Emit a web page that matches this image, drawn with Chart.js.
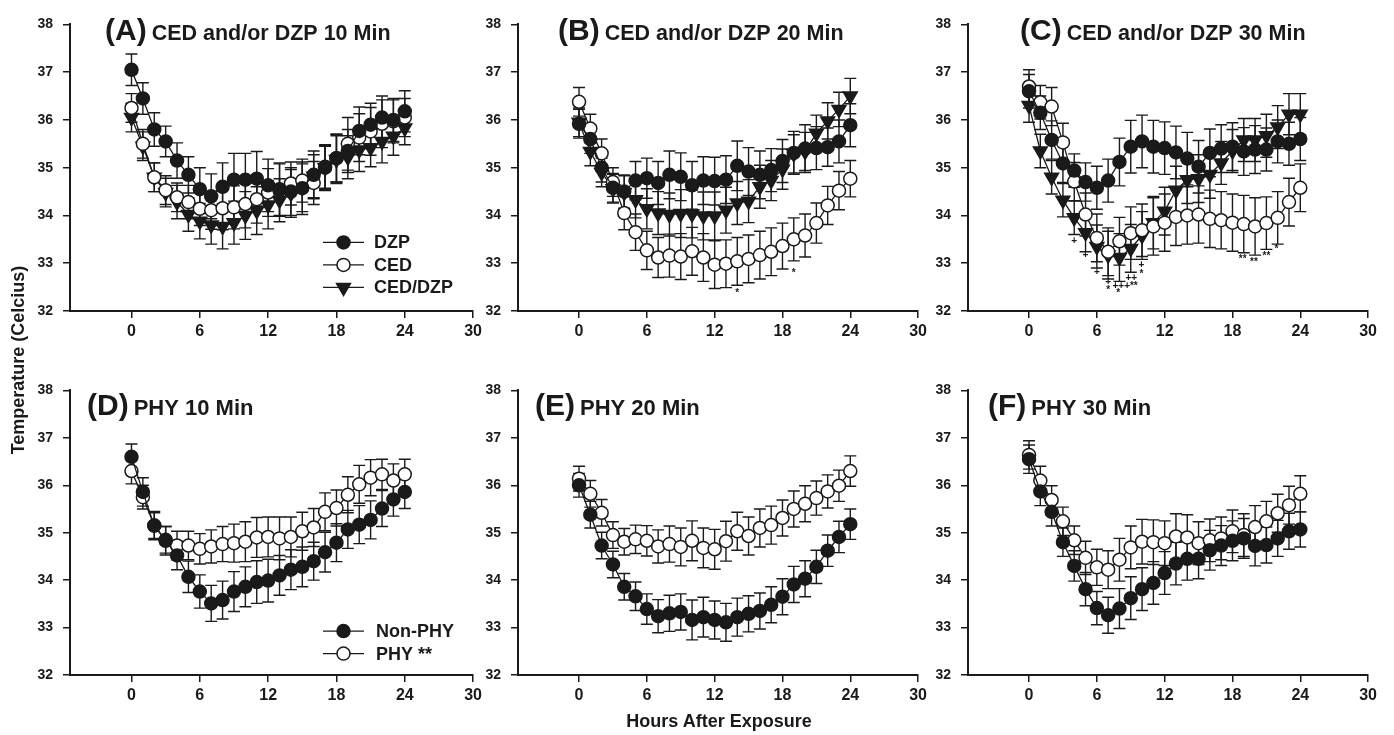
<!DOCTYPE html>
<html lang="en">
  <head>
    <meta charset="utf-8" />
    <script src="https://cdn.jsdelivr.net/npm/chart.js"></script>
    <style>
      body { margin: 0; background: #fff; }
      #wrap { position: relative; width: 1394px; height: 735px; overflow: hidden; }
      canvas { position: absolute; }
      .axis-title {
        position: absolute;
        font: bold 18px "Liberation Sans", Arial, sans-serif;
        color: #1a1a1a;
        line-height: 20px;
        text-align: center;
        width: 320px;
        white-space: nowrap;
      }
      #ytitle { left: -142px; top: 350px; transform: rotate(-90deg); }
      #xtitle { left: 559px; top: 711px; }
    </style>
  </head>
  <body>
    <div id="wrap">
      <canvas id="pA"></canvas>
      <canvas id="pB"></canvas>
      <canvas id="pC"></canvas>
      <canvas id="pD"></canvas>
      <canvas id="pE"></canvas>
      <canvas id="pF"></canvas>
      <div class="axis-title" id="ytitle">Temperature (Celcius)</div>
      <div class="axis-title" id="xtitle">Hours After Exposure</div>
    </div>
    <script>
      // ---- data ----
      const hours = [0, 1, 2, 3, 4, 5, 6, 7, 8, 9, 10, 11, 12, 13, 14, 15, 16, 17, 18, 19, 20, 21, 22, 23, 24];
      const xTicks = [0, 6, 12, 18, 24, 30];
      const yTicks = [32, 33, 34, 35, 36, 37, 38];

      // (A) CED and/or DZP 10 Min
      const dzp10 = [37.05, 36.45, 35.8, 35.55, 35.15, 34.85, 34.55, 34.4, 34.6, 34.75, 34.75, 34.77, 34.63, 34.55, 34.5, 34.57, 34.85, 35.0, 35.2, 35.35, 35.77, 35.9, 36.05, 36.0, 36.18];
      const dzp10Err = [0.33, 0.33, 0.35, 0.32, 0.37, 0.38, 0.45, 0.47, 0.5, 0.55, 0.55, 0.57, 0.55, 0.55, 0.5, 0.55, 0.5, 0.48, 0.5, 0.45, 0.5, 0.45, 0.45, 0.45, 0.43];
      const ced10 = [36.25, 35.5, 34.8, 34.53, 34.38, 34.28, 34.14, 34.11, 34.15, 34.17, 34.24, 34.34, 34.48, 34.53, 34.67, 34.73, 34.68, 35.02, 35.2, 35.5, 35.63, 35.76, 35.92, 35.97, 36.05];
      const ced10Err = [0.3, 0.3, 0.3, 0.3, 0.3, 0.35, 0.35, 0.4, 0.45, 0.45, 0.5, 0.5, 0.5, 0.55, 0.45, 0.45, 0.45, 0.45, 0.5, 0.55, 0.5, 0.5, 0.5, 0.45, 0.4];
      const comb10 = [36.05, 35.45, 34.8, 34.48, 34.28, 34.02, 33.88, 33.8, 33.77, 33.85, 34.0, 34.1, 34.22, 34.32, 34.46, 34.58, 34.82, 35.0, 35.17, 35.22, 35.37, 35.42, 35.55, 35.66, 35.83];
      const comb10Err = [0.3, 0.3, 0.3, 0.3, 0.35, 0.35, 0.37, 0.4, 0.47, 0.45, 0.5, 0.5, 0.5, 0.45, 0.5, 0.5, 0.45, 0.45, 0.5, 0.45, 0.45, 0.4, 0.45, 0.4, 0.35];

      // (B) CED and/or DZP 20 Min
      const dzp20 = [35.92, 35.6, 35.0, 34.58, 34.5, 34.73, 34.78, 34.68, 34.85, 34.81, 34.63, 34.73, 34.72, 34.75, 35.04, 34.92, 34.85, 34.95, 35.14, 35.31, 35.4, 35.41, 35.43, 35.55, 35.89];
      const dzp20Err = [0.3, 0.3, 0.3, 0.3, 0.35, 0.4, 0.42, 0.45, 0.5, 0.5, 0.5, 0.5, 0.5, 0.5, 0.52, 0.5, 0.5, 0.45, 0.45, 0.45, 0.5, 0.45, 0.4, 0.45, 0.45];
      const ced20 = [36.38, 35.82, 35.3, 34.7, 34.05, 33.65, 33.27, 33.12, 33.16, 33.14, 33.25, 33.12, 32.97, 32.99, 33.04, 33.09, 33.17, 33.24, 33.36, 33.5, 33.58, 33.84, 34.21, 34.52, 34.77];
      const ced20Err = [0.3, 0.3, 0.3, 0.3, 0.35, 0.38, 0.4, 0.42, 0.45, 0.48, 0.5, 0.5, 0.5, 0.5, 0.5, 0.5, 0.5, 0.5, 0.48, 0.45, 0.45, 0.42, 0.4, 0.4, 0.38];
      const comb20 = [35.95, 35.34, 34.9, 34.56, 34.48, 34.33, 34.14, 34.05, 34.02, 34.04, 34.03, 33.99, 33.99, 34.11, 34.26, 34.3, 34.6, 34.73, 34.97, 35.29, 35.34, 35.72, 35.98, 36.22, 36.5];
      const comb20Err = [0.3, 0.3, 0.3, 0.3, 0.35, 0.38, 0.42, 0.45, 0.45, 0.5, 0.5, 0.5, 0.5, 0.48, 0.45, 0.45, 0.45, 0.42, 0.42, 0.4, 0.4, 0.38, 0.38, 0.36, 0.37];
      const notes20 = [[14, 32.37, "*"], [19, 32.78, "*"]];

      // (C) CED and/or DZP 30 Min
      const dzp30 = [36.6, 36.15, 35.58, 35.09, 34.94, 34.7, 34.58, 34.73, 35.12, 35.44, 35.55, 35.44, 35.41, 35.32, 35.19, 35.02, 35.31, 35.4, 35.44, 35.34, 35.38, 35.38, 35.55, 35.5, 35.6];
      const dzp30Err = [0.35, 0.35, 0.4, 0.4, 0.35, 0.4, 0.45, 0.45, 0.5, 0.55, 0.55, 0.55, 0.55, 0.55, 0.55, 0.55, 0.5, 0.5, 0.5, 0.5, 0.5, 0.45, 0.45, 0.45, 0.45];
      const ced30 = [36.7, 36.37, 36.28, 35.53, 34.71, 34.02, 33.53, 33.24, 33.46, 33.63, 33.69, 33.77, 33.85, 33.97, 34.0, 34.02, 33.93, 33.9, 33.85, 33.82, 33.77, 33.84, 33.95, 34.28, 34.58];
      const ced30Err = [0.35, 0.35, 0.4, 0.4, 0.4, 0.45, 0.5, 0.5, 0.5, 0.55, 0.55, 0.6, 0.6, 0.6, 0.6, 0.6, 0.6, 0.6, 0.6, 0.6, 0.6, 0.55, 0.55, 0.5, 0.5];
      const comb30 = [36.3, 35.35, 34.8, 34.32, 33.95, 33.64, 33.35, 33.17, 33.12, 33.31, 33.58, 33.85, 34.09, 34.53, 34.75, 34.77, 34.86, 35.1, 35.35, 35.58, 35.58, 35.67, 35.85, 36.12, 36.12];
      const comb30Err = [0.35, 0.35, 0.35, 0.35, 0.35, 0.4, 0.45, 0.5, 0.5, 0.5, 0.5, 0.55, 0.5, 0.5, 0.5, 0.5, 0.5, 0.45, 0.45, 0.45, 0.45, 0.45, 0.45, 0.43, 0.43];
      const notes30 = [
        [4, 33.46, "+"], [5, 33.16, "+"], [6, 32.82, "+"], [7, 32.6, "+"], [7, 32.43, "*"],
        [8.5, 32.51, "+++**"], [7.9, 32.37, "*"], [9.05, 32.69, "++"], [9.95, 32.95, "+"], [9.95, 32.77, "*"],
        [18.9, 33.08, "**"], [19.9, 33.02, "**"], [21, 33.14, "**"], [21.9, 33.3, "*"]
      ];

      // (D) PHY 10 Min
      const non10 = [36.6, 35.86, 35.15, 34.83, 34.52, 34.07, 33.76, 33.51, 33.58, 33.76, 33.86, 33.96, 33.99, 34.1, 34.22, 34.28, 34.4, 34.59, 34.79, 35.07, 35.17, 35.27, 35.51, 35.7, 35.86];
      const non10Err = [0.27, 0.3, 0.3, 0.3, 0.3, 0.33, 0.35, 0.38, 0.4, 0.42, 0.42, 0.45, 0.45, 0.42, 0.42, 0.42, 0.4, 0.42, 0.4, 0.4, 0.4, 0.4, 0.38, 0.35, 0.35];
      const phy10 = [36.3, 35.75, 35.15, 34.85, 34.73, 34.73, 34.66, 34.71, 34.76, 34.78, 34.81, 34.9, 34.91, 34.88, 34.91, 35.03, 35.11, 35.44, 35.52, 35.8, 36.02, 36.16, 36.23, 36.1, 36.23];
      const phy10Err = [0.27, 0.25, 0.27, 0.28, 0.3, 0.3, 0.32, 0.35, 0.37, 0.4, 0.42, 0.42, 0.42, 0.45, 0.42, 0.4, 0.4, 0.4, 0.38, 0.38, 0.4, 0.38, 0.32, 0.35, 0.32];

      // (E) PHY 20 Min
      const non20 = [36.0, 35.38, 34.73, 34.33, 33.86, 33.66, 33.39, 33.24, 33.3, 33.33, 33.16, 33.22, 33.16, 33.11, 33.22, 33.29, 33.35, 33.48, 33.65, 33.91, 34.03, 34.28, 34.62, 34.91, 35.18];
      const non20Err = [0.25, 0.28, 0.28, 0.28, 0.28, 0.3, 0.32, 0.35, 0.38, 0.38, 0.42, 0.42, 0.4, 0.4, 0.4, 0.38, 0.38, 0.38, 0.38, 0.38, 0.38, 0.35, 0.33, 0.33, 0.32];
      const phy20 = [36.14, 35.82, 35.42, 34.95, 34.81, 34.86, 34.83, 34.71, 34.76, 34.7, 34.83, 34.68, 34.65, 34.82, 35.03, 34.93, 35.1, 35.16, 35.31, 35.5, 35.61, 35.73, 35.87, 35.99, 36.3];
      const phy20Err = [0.26, 0.28, 0.28, 0.28, 0.28, 0.3, 0.32, 0.35, 0.38, 0.4, 0.42, 0.42, 0.42, 0.42, 0.4, 0.4, 0.4, 0.4, 0.38, 0.38, 0.38, 0.36, 0.35, 0.33, 0.32];

      // (F) PHY 30 Min
      const non30 = [36.55, 35.87, 35.44, 34.8, 34.3, 33.81, 33.41, 33.26, 33.4, 33.62, 33.81, 33.94, 34.15, 34.35, 34.45, 34.45, 34.63, 34.73, 34.83, 34.88, 34.72, 34.74, 34.88, 35.03, 35.07];
      const non30Err = [0.3, 0.3, 0.3, 0.3, 0.32, 0.35, 0.35, 0.38, 0.42, 0.45, 0.45, 0.45, 0.45, 0.45, 0.45, 0.42, 0.42, 0.42, 0.42, 0.42, 0.42, 0.38, 0.38, 0.38, 0.37];
      const phy30 = [36.64, 36.1, 35.69, 35.24, 34.84, 34.47, 34.27, 34.22, 34.43, 34.69, 34.81, 34.8, 34.78, 34.92, 34.9, 34.78, 34.84, 34.88, 35.03, 34.95, 35.12, 35.24, 35.41, 35.58, 35.82];
      const phy30Err = [0.3, 0.3, 0.3, 0.3, 0.3, 0.35, 0.38, 0.4, 0.45, 0.45, 0.47, 0.47, 0.47, 0.48, 0.48, 0.45, 0.45, 0.45, 0.45, 0.45, 0.45, 0.42, 0.4, 0.4, 0.38];

      // ---- drawing ----
      const INK = "#1a1a1a";
      const FONT = '"Liberation Sans", Arial, sans-serif';

      function marker(ctx, kind, x, y) {
        ctx.save();
        ctx.beginPath();
        if (kind === "tri") {
          const r = 8;
          ctx.moveTo(x, y + r);
          ctx.lineTo(x - r * 0.866, y - r * 0.5);
          ctx.lineTo(x + r * 0.866, y - r * 0.5);
          ctx.closePath();
        } else {
          ctx.arc(x, y, 6.5, 0, Math.PI * 2);
        }
        ctx.fillStyle = kind === "open" ? "#fff" : INK;
        ctx.strokeStyle = INK;
        ctx.lineWidth = 1.5;
        ctx.fill();
        ctx.stroke();
        ctx.restore();
      }

      const panelInfo = {};

      const errorBars = {
        id: "errorBars",
        beforeDatasetsDraw(chart) {
          const { ctx, scales } = chart;
          ctx.save();
          ctx.strokeStyle = INK;
          ctx.lineWidth = 1.4;
          chart.data.datasets.forEach((ds) => {
            ds.data.forEach((p, i) => {
              const e = ds.errors[i];
              const px = scales.x.getPixelForValue(p.x);
              const top = scales.y.getPixelForValue(p.y + e);
              const bot = scales.y.getPixelForValue(p.y - e);
              ctx.beginPath();
              ctx.moveTo(px, top);
              ctx.lineTo(px, bot);
              ctx.moveTo(px - 6, top);
              ctx.lineTo(px + 6, top);
              ctx.moveTo(px - 6, bot);
              ctx.lineTo(px + 6, bot);
              ctx.stroke();
            });
          });
          ctx.restore();
        },
      };

      const decor = {
        id: "decor",
        afterDraw(chart) {
          const info = panelInfo[chart.canvas.id];
          const { ctx, chartArea, scales } = chart;
          ctx.save();
          ctx.fillStyle = INK;
          ctx.textBaseline = "alphabetic";
          ctx.font = "bold 30px " + FONT;
          const lx = chartArea.left + info.dx;
          const ly = chartArea.top + info.dy;
          ctx.fillText(info.letter, lx, ly);
          const w = ctx.measureText(info.letter).width;
          ctx.font = "bold " + info.titleSize + "px " + FONT;
          ctx.fillText(info.title, lx + w + 5, ly);

          if (info.legend) {
            ctx.font = "bold 18px " + FONT;
            ctx.textBaseline = "middle";
            ctx.textAlign = "left";
            chart.data.datasets.forEach((ds, i) => {
              const y = chartArea.top + info.legend.y + i * 22.5;
              const x0 = chartArea.left + info.legend.x;
              ctx.strokeStyle = INK;
              ctx.lineWidth = 1.4;
              ctx.beginPath();
              ctx.moveTo(x0, y);
              ctx.lineTo(x0 + 41, y);
              ctx.stroke();
              marker(ctx, ds.kind, x0 + 20.5, y);
              ctx.fillStyle = INK;
              ctx.fillText(ds.label, chartArea.left + info.legend.text, y + 1);
            });
          }

          if (info.notes) {
            ctx.font = "bold 10px " + FONT;
            ctx.textAlign = "center";
            ctx.textBaseline = "middle";
            info.notes.forEach(([h, t, s]) => {
              ctx.fillText(s, scales.x.getPixelForValue(h), scales.y.getPixelForValue(t));
            });
          }
          ctx.restore();
        },
      };

      function series(label, kind, vals, errs) {
        return {
          label: label,
          kind: kind,
          data: vals.map((v, i) => ({ x: hours[i], y: v })),
          errors: errs,
          borderColor: INK,
          borderWidth: 1.3,
          pointStyle: kind === "tri" ? "triangle" : "circle",
          pointRotation: kind === "tri" ? 180 : 0,
          pointRadius: kind === "tri" ? 8 : 6.5,
          pointBackgroundColor: kind === "open" ? "#fff" : INK,
          pointBorderColor: INK,
          pointBorderWidth: 1.5,
          tension: 0,
        };
      }

      const cols = [[70, 474], [518, 919], [968, 1369]];
      const rows = [[16, 311], [382, 675]];

      function makePanel(id, col, row, info, datasets) {
        panelInfo[id] = info;
        const [cl, cr] = cols[col];
        const [rt, rb] = rows[row];
        const cv = document.getElementById(id);
        cv.width = cr - cl + 62;
        cv.height = rb - rt + 40;
        cv.style.left = cl - 50 + "px";
        cv.style.top = rt - 10 + "px";

        const tickFont = (size) => ({ family: FONT, size: size, weight: "bold" });
        const grid = { display: true, drawOnChartArea: false, drawTicks: true, tickLength: 7, color: INK, lineWidth: 1.5 };
        const border = { display: true, color: INK, width: 2 };

        new Chart(cv, {
          type: "line",
          data: { datasets: datasets },
          options: {
            responsive: false,
            animation: false,
            events: [],
            layout: { padding: { left: 0, top: 10, right: 12, bottom: 0 } },
            plugins: { legend: { display: false }, tooltip: { enabled: false } },
            scales: {
              x: {
                type: "linear",
                min: -5.4,
                max: 30,
                afterBuildTicks: (s) => { s.ticks = xTicks.map((v) => ({ value: v })); },
                afterFit: (s) => { s.height = 30; },
                ticks: { font: tickFont(16), color: INK, padding: 4, maxRotation: 0 },
                grid: grid,
                border: border,
              },
              y: {
                type: "linear",
                min: 32,
                max: 38,
                afterBuildTicks: (s) => { s.ticks = yTicks.map((v) => ({ value: v })); },
                afterFit: (s) => { s.width = 50; },
                ticks: { font: tickFont(14), color: INK, padding: 10 },
                grid: grid,
                border: border,
              },
            },
          },
          plugins: [errorBars, decor],
        });
      }

      makePanel("pA", 0, 0,
        { letter: "(A)", title: "CED and/or DZP 10 Min", titleSize: 21.5, dx: 35, dy: 15.5, legend: { x: 253, y: 218, text: 304 } },
        [series("DZP", "filled", dzp10, dzp10Err), series("CED", "open", ced10, ced10Err), series("CED/DZP", "tri", comb10, comb10Err)]);
      makePanel("pB", 1, 0,
        { letter: "(B)", title: "CED and/or DZP 20 Min", titleSize: 21.5, dx: 40, dy: 15.5, notes: notes20 },
        [series("DZP", "filled", dzp20, dzp20Err), series("CED", "open", ced20, ced20Err), series("CED/DZP", "tri", comb20, comb20Err)]);
      makePanel("pC", 2, 0,
        { letter: "(C)", title: "CED and/or DZP 30 Min", titleSize: 21.5, dx: 52, dy: 15.5, notes: notes30 },
        [series("DZP", "filled", dzp30, dzp30Err), series("CED", "open", ced30, ced30Err), series("CED/DZP", "tri", comb30, comb30Err)]);
      makePanel("pD", 0, 1,
        { letter: "(D)", title: "PHY 10 Min", titleSize: 22, dx: 17, dy: 24.5, legend: { x: 253, y: 240.7, text: 306 } },
        [series("Non-PHY", "filled", non10, non10Err), series("PHY **", "open", phy10, phy10Err)]);
      makePanel("pE", 1, 1,
        { letter: "(E)", title: "PHY 20 Min", titleSize: 22, dx: 17, dy: 24.5 },
        [series("Non-PHY", "filled", non20, non20Err), series("PHY", "open", phy20, phy20Err)]);
      makePanel("pF", 2, 1,
        { letter: "(F)", title: "PHY 30 Min", titleSize: 22, dx: 20, dy: 24.5 },
        [series("Non-PHY", "filled", non30, non30Err), series("PHY", "open", phy30, phy30Err)]);
    </script>
  </body>
</html>
